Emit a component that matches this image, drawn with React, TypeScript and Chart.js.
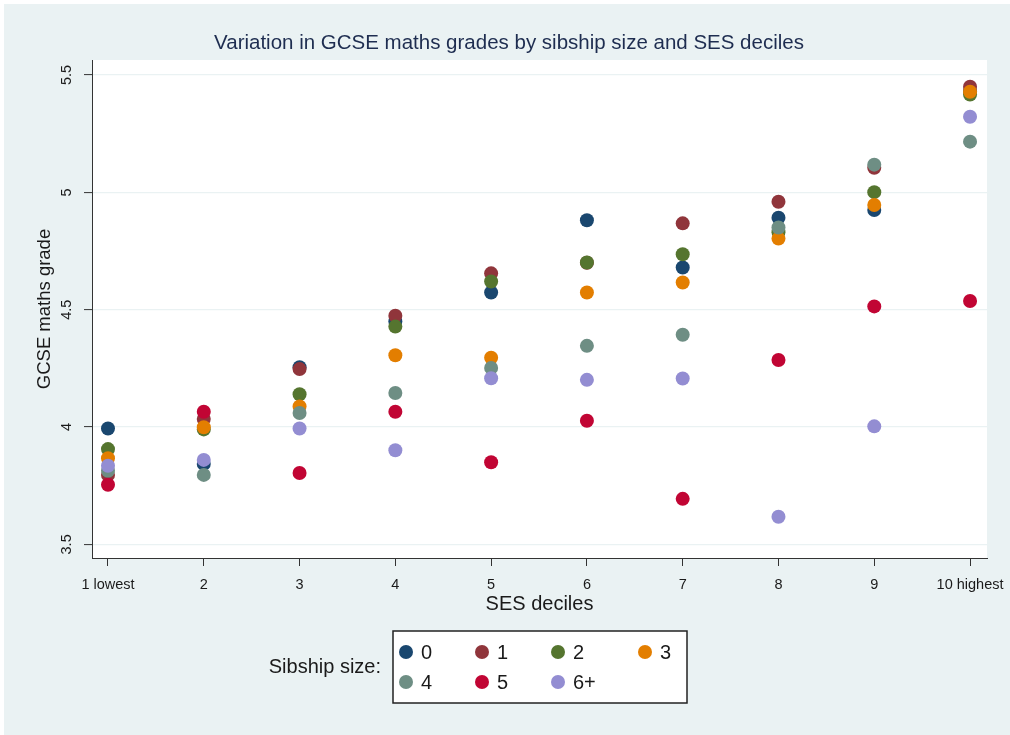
import { useEffect, useRef } from 'react';
import { Chart, registerables } from 'chart.js';

Chart.register(...registerables);

const deciles = [1, 2, 3, 4, 5, 6, 7, 8, 9, 10];
const decileLabels = ['1 lowest', '2', '3', '4', '5', '6', '7', '8', '9', '10 highest'];
const yTicks = [3.5, 4, 4.5, 5, 5.5];

const sib0 = [3.994, 3.843, 4.255, 4.45, 4.573, 4.881, 4.68, 4.892, 4.925, 5.43];
const sib1 = [3.796, 4.034, 4.247, 4.474, 4.655, 4.7, 4.868, 4.96, 5.105, 5.45];
const sib2 = [3.906, 3.99, 4.14, 4.428, 4.62, 4.701, 4.736, 4.83, 5.001, 5.417];
const sib3 = [3.867, 3.999, 4.088, 4.306, 4.295, 4.573, 4.616, 4.803, 4.946, 5.429];
const sib4 = [3.814, 3.796, 4.06, 4.145, 4.252, 4.346, 4.393, 4.85, 5.118, 5.216];
const sib5 = [3.754, 4.065, 3.804, 4.065, 3.85, 4.027, 3.694, 4.286, 4.514, 4.537];
const sib6 = [3.835, 3.86, 3.994, 3.901, 4.208, 4.201, 4.207, 3.618, 4.003, 5.322];

const seriesNames = ['0', '1', '2', '3', '4', '5', '6+'];
const seriesValues = [sib0, sib1, sib2, sib3, sib4, sib5, sib6];
const seriesColors = ['#1A476F', '#90353B', '#55752F', '#E37E00', '#6E8E84', '#C10534', '#938DD2'];

const TITLE = 'Variation in GCSE maths grades by sibship size and SES deciles';
const FONT = '"Liberation Sans", Arial, sans-serif';
const BG = '#EAF2F3';

const decorPlugin = {
  id: 'decor',
  beforeDraw(chart: any) {
    const { ctx, width, height, chartArea } = chart;
    ctx.save();
    ctx.fillStyle = '#ffffff';
    ctx.fillRect(0, 0, width, height);
    ctx.fillStyle = BG;
    ctx.fillRect(4, 4, width - 4, height - 4);
    ctx.fillStyle = '#ffffff';
    ctx.fillRect(chartArea.left, chartArea.top, chartArea.right - chartArea.left, chartArea.bottom - chartArea.top);
    ctx.restore();
  },
  afterDraw(chart: any) {
    const { ctx, chartArea } = chart;
    const ys = chart.scales.y;
    ctx.save();
    ctx.textAlign = 'center';
    ctx.textBaseline = 'middle';
    // title
    ctx.fillStyle = '#1e2d50';
    ctx.font = `20.5px ${FONT}`;
    ctx.fillText(TITLE, 509, 43);
    // y tick labels (rotated)
    ctx.fillStyle = '#1a1a1a';
    ctx.font = `14.5px ${FONT}`;
    yTicks.forEach((v) => {
      const py = ys.getPixelForValue(v);
      ctx.save();
      ctx.translate(67, py);
      ctx.rotate(-Math.PI / 2);
      ctx.fillText(String(v), 0, 0);
      ctx.restore();
    });
    // y axis title
    ctx.font = `18.5px ${FONT}`;
    ctx.save();
    ctx.translate(45, (chartArea.top + chartArea.bottom) / 2);
    ctx.rotate(-Math.PI / 2);
    ctx.fillText('GCSE maths grade', 0, 0);
    ctx.restore();
    // x axis title
    ctx.font = `20px ${FONT}`;
    ctx.fillText('SES deciles', (chartArea.left + chartArea.right) / 2, 604);

    // legend
    const bx = 393, by = 631, bw = 294, bh = 72;
    ctx.fillStyle = '#ffffff';
    ctx.fillRect(bx, by, bw, bh);
    ctx.strokeStyle = '#222';
    ctx.lineWidth = 1.5;
    ctx.strokeRect(bx, by, bw, bh);
    ctx.fillStyle = '#1a1a1a';
    ctx.textAlign = 'right';
    ctx.font = `20px ${FONT}`;
    ctx.fillText('Sibship size:', 381, 667);
    const cols = [406, 482, 558, 645];
    const rows = [652, 682];
    chart.data.datasets.forEach((ds: any, i: number) => {
      const cx = cols[i % 4];
      const cy = rows[Math.floor(i / 4)];
      ctx.beginPath();
      ctx.arc(cx, cy, 7, 0, Math.PI * 2);
      ctx.fillStyle = ds.backgroundColor;
      ctx.fill();
      ctx.fillStyle = '#1a1a1a';
      ctx.textAlign = 'left';
      ctx.fillText(ds.label, cx + 15, cy + 1);
    });
    ctx.restore();
  },
};

export default function App() {
  const ref = useRef<HTMLCanvasElement | null>(null);
  useEffect(() => {
    if (!ref.current) return;
    const chart = new Chart(ref.current, {
      type: 'scatter',
      data: {
        datasets: seriesNames.map((name, i) => ({
          label: name,
          data: deciles.map((d, j) => ({ x: d, y: seriesValues[i][j] })),
          backgroundColor: seriesColors[i],
          borderColor: seriesColors[i],
          borderWidth: 0,
          pointRadius: 7,
          pointHoverRadius: 7,
          order: seriesNames.length - 1 - i,
        })),
      },
      options: {
        animation: false,
        responsive: true,
        maintainAspectRatio: false,
        layout: { padding: { left: 0, right: 23, top: 60, bottom: 0 } },
        plugins: {
          legend: { display: false },
          tooltip: { enabled: false },
          title: { display: false },
        },
        scales: {
          x: {
            type: 'linear',
            min: 0.833,
            max: 10.177,
            afterBuildTicks: (s: any) => {
              s.ticks = deciles.map((v) => ({ value: v }));
            },
            afterFit: (s: any) => {
              s.height = 177;
              s.paddingLeft = 0;
              s.paddingRight = 0;
            },
            ticks: {
              autoSkip: false,
              maxRotation: 0,
              minRotation: 0,
              padding: 10,
              color: '#1a1a1a',
              font: { family: FONT, size: 14.5 },
              callback: (v: any) => decileLabels[deciles.indexOf(Number(v))] ?? '',
            },
            grid: {
              drawOnChartArea: false,
              drawTicks: true,
              tickLength: 8,
              tickColor: '#333',
              tickWidth: 1,
            },
            border: { display: true, color: '#333', width: 1 },
          },
          y: {
            type: 'linear',
            min: 3.442,
            max: 5.564,
            afterBuildTicks: (s: any) => {
              s.ticks = yTicks.map((v) => ({ value: v }));
            },
            afterFit: (s: any) => {
              s.width = 92;
              s.paddingTop = 0;
              s.paddingBottom = 0;
            },
            ticks: { display: false },
            grid: {
              color: BG,
              lineWidth: 1.2,
              drawTicks: true,
              tickLength: 8,
              tickColor: '#333',
              tickWidth: 1,
            },
            border: { display: true, color: '#333', width: 1 },
          },
        },
      },
      plugins: [decorPlugin],
    });
    return () => chart.destroy();
  }, []);
  return (
    <div style={{ position: 'absolute', left: 0, top: 0, width: 1010, height: 735 }}>
      <canvas ref={ref} />
    </div>
  );
}
